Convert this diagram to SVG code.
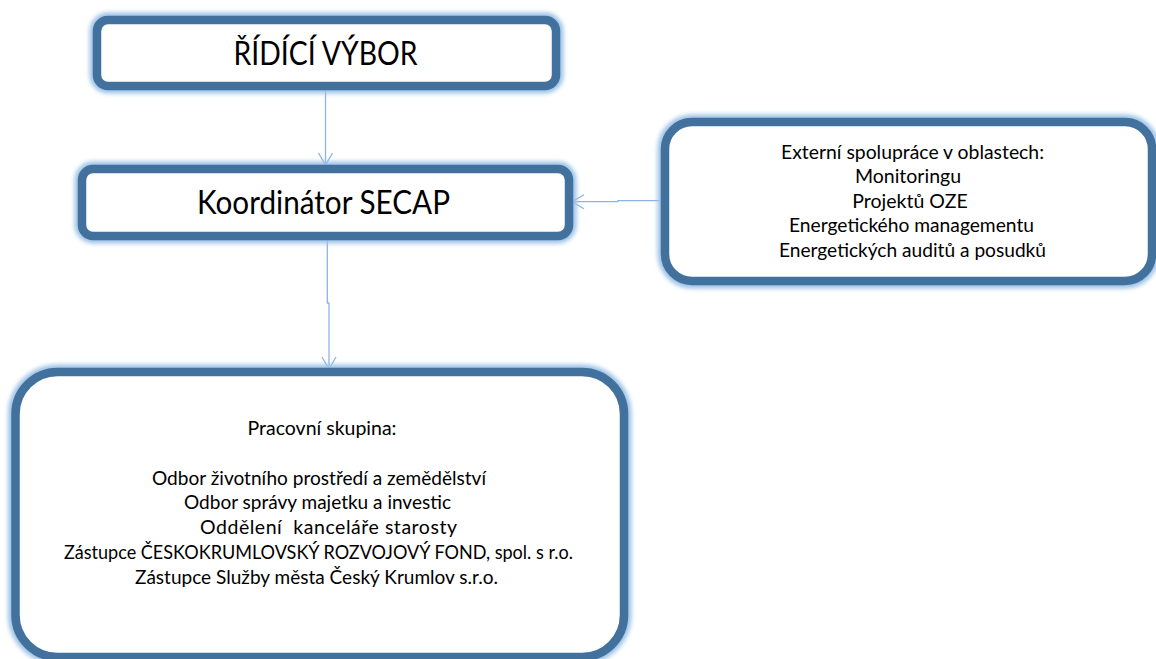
<svg xmlns="http://www.w3.org/2000/svg" width="1156" height="659" viewBox="0 0 1156 659">
<defs>
<style>
.glow{fill:none;stroke:#9DC3E6;stroke-width:15;filter:url(#blur)}
.box{fill:#FFFFFF;stroke:#42719E;stroke-width:8.5}
.title{font-family:Lato,"Liberation Sans",sans-serif;font-size:33px;fill:#000;text-anchor:middle}
.txt{font-family:Lato,"Liberation Sans",sans-serif;font-size:19.5px;fill:#000;text-anchor:middle}
.conn{fill:none;stroke:#8DB4E2;stroke-width:1.3}
</style>
<filter id="blur" x="-10%" y="-20%" width="120%" height="140%"><feGaussianBlur stdDeviation="2"/></filter>
<marker id="arr" viewBox="0 0 14 16" refX="13" refY="8" markerWidth="14" markerHeight="16" markerUnits="userSpaceOnUse" orient="auto">
<path d="M1,1 L13,8 L1,15" fill="none" stroke="#8DB4E2" stroke-width="1.3"/>
</marker>
</defs>
<rect width="1156" height="659" fill="#FFFFFF"/>
<g id="connectors">
<path class="conn" d="M325.5,86 V165" marker-end="url(#arr)"/>
<path class="conn" d="M665,200.7 H618 V201.7 H572" marker-end="url(#arr)"/>
<path class="conn" d="M327.3,236 V303 H329 V369" marker-end="url(#arr)"/>
</g>
<g id="ridici-vybor">
<rect class="glow" x="97" y="20" width="459" height="66" rx="11"/>
<rect class="box" x="97" y="20" width="459" height="66" rx="11"/>
<text class="title" x="325.5" y="65" textLength="184" lengthAdjust="spacingAndGlyphs">ŘÍDÍCÍ VÝBOR</text>
</g>
<g id="koordinator">
<rect class="glow" x="82" y="169" width="487" height="67" rx="11"/>
<rect class="box" x="82" y="169" width="487" height="67" rx="11"/>
<text class="title" x="323.5" y="214" textLength="253" lengthAdjust="spacingAndGlyphs">Koordinátor SECAP</text>
</g>
<g id="externi">
<rect class="glow" x="665" y="122" width="487" height="159" rx="27"/>
<rect class="box" x="665" y="122" width="487" height="159" rx="27"/>
<text class="txt" x="912.5" y="158.5" textLength="263" lengthAdjust="spacingAndGlyphs">Externí spolupráce v oblastech:</text>
<text class="txt" x="908" y="183">Monitoringu</text>
<text class="txt" x="910" y="207.5">Projektů OZE</text>
<text class="txt" x="911.5" y="232" textLength="245" lengthAdjust="spacingAndGlyphs">Energetického managementu</text>
<text class="txt" x="912.5" y="256.5" textLength="267" lengthAdjust="spacingAndGlyphs">Energetických auditů a posudků</text>
</g>
<g id="pracovni-skupina">
<rect class="glow" x="15.5" y="372" width="608.5" height="285" rx="42"/>
<rect class="box" x="15.5" y="372" width="608.5" height="285" rx="42"/>
<text class="txt" x="322" y="435">Pracovní skupina:</text>
<text class="txt" x="319" y="484.6" textLength="334" lengthAdjust="spacingAndGlyphs">Odbor životního prostředí a zemědělství</text>
<text class="txt" x="317.5" y="509.4" textLength="267" lengthAdjust="spacingAndGlyphs">Odbor správy majetku a investic</text>
<text class="txt" x="328.5" y="534.2" textLength="257" lengthAdjust="spacing" style="white-space:pre">Oddělení  kanceláře starosty</text>
<text class="txt" x="318.5" y="559" textLength="509" lengthAdjust="spacingAndGlyphs">Zástupce ČESKOKRUMLOVSKÝ ROZVOJOVÝ FOND, spol. s r.o.</text>
<text class="txt" x="316.5" y="583.8" textLength="363" lengthAdjust="spacingAndGlyphs">Zástupce Služby města Český Krumlov s.r.o.</text>
</g>
</svg>
